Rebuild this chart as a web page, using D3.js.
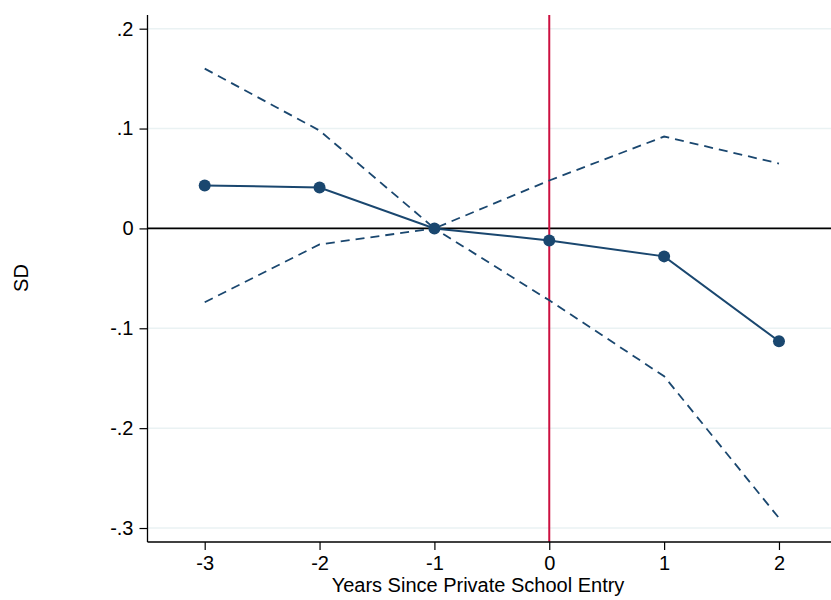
<!DOCTYPE html>
<html>
<head>
<meta charset="utf-8">
<script src="https://cdn.jsdelivr.net/npm/d3@7"></script>
<style>
  body { margin: 0; background: #fff; }
  text { font-family: "Liberation Sans", Arial, Helvetica, sans-serif; }
</style>
</head>
<body>
<svg class="chart"></svg>
<script>
// Chart size
const width = 831;
const height = 600;

// Data
const years = [-3, -2, -1, 0, 1, 2];
const estimate = [0.043, 0.041, 0, -0.012, -0.028, -0.113];
const upperCI = [0.160, 0.098, 0, 0.048, 0.092, 0.065];
const lowerCI = [-0.074, -0.016, 0, -0.072, -0.148, -0.290];
const xTicks = [-3, -2, -1, 0, 1, 2];
const yTicks = [0.2, 0.1, 0, -0.1, -0.2, -0.3];

const margin = { top: 15, right: 0, bottom: 58, left: 147.5 };

const svg = d3.select(".chart")
    .attr("width", width)
    .attr("height", height);

const x = d3.scaleLinear()
    .domain([-3.498, 2.453])
    .range([margin.left, width - margin.right]);

const y = d3.scaleLinear()
    .domain([-0.314, 0.2137])
    .range([height - margin.bottom, margin.top]);

const navy = "#1a476f";

// Gridlines
svg.append("g")
    .selectAll("line")
    .data(yTicks)
    .enter().append("line")
    .attr("x1", margin.left)
    .attr("x2", width)
    .attr("y1", d => y(d))
    .attr("y2", d => y(d))
    .attr("stroke", "#eaf2f3")
    .attr("stroke-width", 1.5);

// Zero line
svg.append("line")
    .attr("x1", margin.left)
    .attr("x2", width)
    .attr("y1", y(0))
    .attr("y2", y(0))
    .attr("stroke", "#000")
    .attr("stroke-width", 1.8);

// Event line
svg.append("line")
    .attr("x1", x(0))
    .attr("x2", x(0))
    .attr("y1", margin.top)
    .attr("y2", height - margin.bottom)
    .attr("stroke", "#cc1040")
    .attr("stroke-width", 2);

const line = (vals) => d3.line()
    .x((d, i) => x(years[i]))
    .y(d => y(d))(vals);

// Confidence bands
[upperCI, lowerCI].forEach(ci => {
    svg.append("path")
        .attr("d", line(ci))
        .attr("fill", "none")
        .attr("stroke", navy)
        .attr("stroke-width", 1.8)
        .attr("stroke-dasharray", "9,6");
});

// Point estimates
svg.append("path")
    .attr("d", line(estimate))
    .attr("fill", "none")
    .attr("stroke", navy)
    .attr("stroke-width", 2);

svg.append("g")
    .selectAll("circle")
    .data(estimate)
    .enter().append("circle")
    .attr("cx", (d, i) => x(years[i]))
    .attr("cy", d => y(d))
    .attr("r", 6)
    .attr("fill", navy);

// Axes (hyphen minus, no leading zero, like Stata)
const fmtY = d => d === 0 ? "0" : d3.format(".1f")(d).replace("−", "-").replace("0.", ".");
const fmtX = d => String(d);

const yAxis = svg.append("g")
    .attr("transform", `translate(${margin.left},0)`)
    .call(d3.axisLeft(y).tickValues(yTicks).tickFormat(fmtY).tickSize(8).tickPadding(6));

const xAxis = svg.append("g")
    .attr("transform", `translate(0,${height - margin.bottom})`)
    .call(d3.axisBottom(x).tickValues(xTicks).tickFormat(fmtX).tickSize(8).tickPadding(6));

[yAxis, xAxis].forEach(a => {
    a.attr("font-size", null).attr("font-family", null);
    a.select(".domain").attr("stroke", "#000").attr("stroke-width", 1.3);
    a.selectAll(".tick line").attr("stroke", "#000").attr("stroke-width", 1.2);
    a.selectAll("text").style("font-size", "20px").attr("fill", "#000");
});
xAxis.select(".domain").attr("d", `M${margin.left},0H${width}`);
yAxis.select(".domain").attr("d", `M0,${margin.top}V${height - margin.bottom}`);

// Axis titles
svg.append("text")
    .attr("x", 478)
    .attr("y", 592)
    .attr("text-anchor", "middle")
    .style("font-size", "20px")
    .text("Years Since Private School Entry");

svg.append("text")
    .attr("transform", `translate(28,278) rotate(-90)`)
    .attr("text-anchor", "middle")
    .style("font-size", "20px")
    .text("SD");
</script>
</body>
</html>
